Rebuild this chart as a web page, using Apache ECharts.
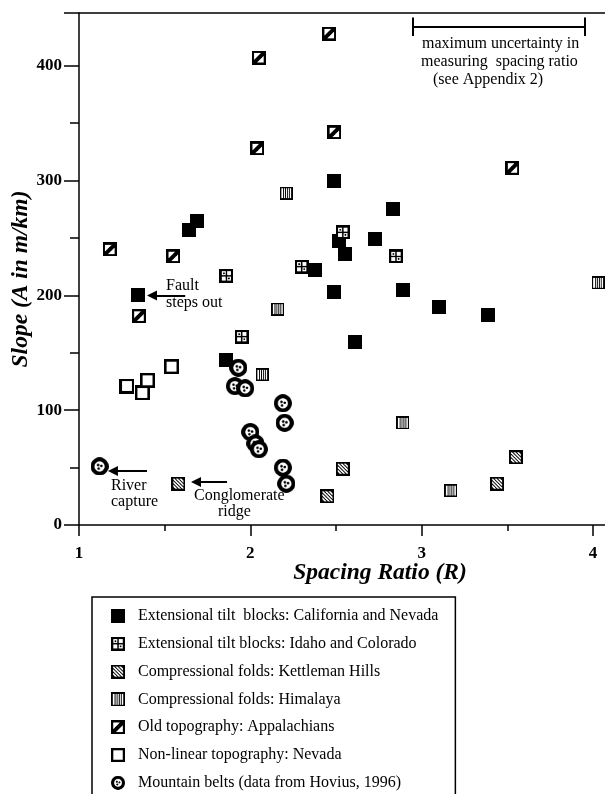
<!DOCTYPE html>
<html>
<head>
<meta charset="utf-8">
<script src="https://cdn.jsdelivr.net/npm/echarts@6/dist/echarts.min.js"></script>
<style>
  html, body { margin: 0; padding: 0; background: #fff; }
  #chart { width: 605px; height: 794px; }
</style>
</head>
<body>
<div id="chart"></div>
<script>
// [spacing ratio R, slope A]
const caNevada = [[1.345, 200], [1.64, 257], [1.69, 265], [1.86, 144], [2.49, 300], [2.38, 222], [2.49, 203],
  [2.52, 247], [2.55, 236], [2.61, 159], [2.73, 249], [2.83, 275], [2.89, 205], [3.10, 190], [3.39, 183]];
const idahoColorado = [[1.86, 217], [1.95, 164], [2.30, 225], [2.54, 255], [2.85, 234]];
const kettleman = [[1.58, 36], [2.54, 49], [2.45, 25], [3.55, 59], [3.44, 36]];
const himalaya = [[2.21, 289], [2.16, 188], [2.07, 131], [2.89, 89], [3.17, 30], [4.03, 211]];
const appalachians = [[1.18, 240], [1.35, 182], [1.55, 234], [2.05, 407], [2.04, 328], [2.46, 428], [2.49, 342], [3.53, 311]];
const nonLinear = [[1.28, 121], [1.37, 115], [1.40, 126], [1.54, 138]];
const mountainBelts = [[1.12, 51], [1.93, 137], [1.91, 121], [1.97, 119], [2.00, 81], [2.03, 71], [2.05, 66],
  [2.19, 106], [2.20, 89], [2.19, 50], [2.21, 36]];

const seriesNames = [
  'Extensional tilt  blocks: California and Nevada',
  'Extensional tilt blocks: Idaho and Colorado',
  'Compressional folds: Kettleman Hills',
  'Compressional folds: Himalaya',
  'Old topography: Appalachians',
  'Non-linear topography: Nevada',
  'Mountain belts (data from Hovius, 1996)'
];
const xTicks = [1, 2, 3, 4];
const xMinorTicks = [1, 1.5, 2, 2.5, 3, 3.5, 4];
const yTicks = [0, 100, 200, 300, 400];

const serif = "'Liberation Serif', 'DejaVu Serif', serif";

// little canvas pictures for the patterned markers
function icon(draw) {
  const c = document.createElement('canvas');
  c.width = c.height = 48;
  const g = c.getContext('2d');
  g.scale(48, 48);
  draw(g);
  return 'image://' + c.toDataURL();
}

const solidIcon = icon(g => { g.fillStyle = '#000'; g.fillRect(0, 0, 1, 1); });

const checkerIcon = icon(g => {
  g.fillStyle = '#000'; g.fillRect(0, 0, 1, 1);
  g.fillStyle = '#fff';
  [[0.17, 0.17], [0.55, 0.17], [0.17, 0.55], [0.55, 0.55]].forEach(p => g.fillRect(p[0], p[1], 0.28, 0.28));
  g.fillStyle = '#000';
  g.fillRect(0.26, 0.26, 0.12, 0.12);
  g.fillRect(0.62, 0.62, 0.12, 0.12);
  g.fillRect(0.45, 0.3, 0.1, 0.4);
});

const kettlemanIcon = icon(g => {
  g.fillStyle = '#000'; g.fillRect(0, 0, 1, 1);
  g.save();
  g.beginPath(); g.rect(0.14, 0.14, 0.72, 0.72); g.clip();
  g.strokeStyle = '#fff'; g.lineWidth = 0.11;
  [-0.5, -0.25, 0, 0.25, 0.5].forEach(k => { g.beginPath(); g.moveTo(k, 0); g.lineTo(k + 1, 1); g.stroke(); });
  g.restore();
});

const himalayaIcon = icon(g => {
  g.fillStyle = '#fff'; g.fillRect(0, 0, 1, 1);
  g.strokeStyle = '#000'; g.lineWidth = 0.12; g.strokeRect(0.06, 0.06, 0.88, 0.88);
  g.fillStyle = '#000';
  [0.25, 0.4, 0.55, 0.7].forEach(x => g.fillRect(x, 0.06, 0.07, 0.88));
});

const appalachianIcon = icon(g => {
  g.fillStyle = '#000'; g.fillRect(0, 0, 1, 1);
  g.fillStyle = '#fff';
  g.beginPath(); g.moveTo(0.16, 0.16); g.lineTo(0.64, 0.16); g.lineTo(0.16, 0.64); g.closePath(); g.fill();
  g.beginPath(); g.moveTo(0.84, 0.36); g.lineTo(0.84, 0.84); g.lineTo(0.36, 0.84); g.closePath(); g.fill();
});

const openIcon = icon(g => {
  g.fillStyle = '#fff'; g.fillRect(0, 0, 1, 1);
  g.strokeStyle = '#000'; g.lineWidth = 0.17; g.strokeRect(0.085, 0.085, 0.83, 0.83);
});

const mountainIcon = icon(g => {
  g.fillStyle = '#000'; g.beginPath(); g.arc(0.5, 0.5, 0.5, 0, Math.PI * 2); g.fill();
  g.fillStyle = '#fff'; g.beginPath(); g.arc(0.5, 0.5, 0.28, 0, Math.PI * 2); g.fill();
  g.fillStyle = '#000';
  [[0.42, 0.42], [0.6, 0.47], [0.45, 0.62]].forEach(p => { g.beginPath(); g.arc(p[0], p[1], 0.07, 0, Math.PI * 2); g.fill(); });
});

const groups = [
  [caNevada, solidIcon, 14],
  [idahoColorado, checkerIcon, 14],
  [kettleman, kettlemanIcon, 14],
  [himalaya, himalayaIcon, 13],
  [appalachians, appalachianIcon, 14],
  [nonLinear, openIcon, 15],
  [mountainBelts, mountainIcon, 18]
];

const axisLine = { onZero: false, lineStyle: { color: '#000', width: 1.5 } };
const tickStyle = { color: '#000', width: 1.5 };
const tickFont = { color: '#000', fontFamily: serif, fontWeight: 'bold', fontSize: 17 };
const nameFont = { color: '#000', fontFamily: serif, fontWeight: 'bold', fontStyle: 'italic' };
const textFont = '16px ' + serif;

function arrow(from, to) {
  return [{ coord: from, symbol: 'none' }, { coord: to, symbol: 'triangle', symbolSize: 10 }];
}

let chart = echarts.init(document.getElementById('chart'), null, { renderer: 'canvas' });

const series = groups.map((g, i) => ({
  type: 'scatter',
  name: seriesNames[i],
  data: g[0],
  symbol: g[1],
  symbolSize: g[2],
  itemStyle: { opacity: 1 },
  silent: true
}));

series.push({
  type: 'scatter',
  name: 'notes',
  data: [],
  silent: true,
  markLine: {
    silent: true,
    symbol: 'none',
    label: { show: false },
    lineStyle: { color: '#000', width: 2, type: 'solid' },
    data: [
      // uncertainty bar
      [{ coord: [2.95, 434] }, { coord: [3.95, 434] }],
      [{ coord: [2.95, 442] }, { coord: [2.95, 426] }],
      [{ coord: [3.95, 442] }, { coord: [3.95, 426] }],
      arrow([1.62, 200], [1.426, 200]),
      arrow([1.397, 47], [1.198, 47]),
      arrow([1.864, 37.5], [1.683, 37.5])
    ]
  }
});

chart.setOption({
  animation: false,
  grid: { left: 79, right: 0, top: 13, bottom: 269, outerBoundsMode: 'none', containLabel: false },
  xAxis: [
    {
      type: 'value', min: 1, max: 4.07, interval: 0.5, position: 'bottom',
      axisLine,
      axisTick: { length: 6, lineStyle: tickStyle, customValues: xMinorTicks },
      axisLabel: Object.assign({ margin: 20, customValues: xTicks, formatter: v => xTicks.includes(v) ? String(v) : '' }, tickFont),
      splitLine: { show: false },
      name: 'Spacing Ratio (R)', nameLocation: 'middle', nameGap: 36, nameMoveOverlap: false,
      nameTextStyle: Object.assign({ fontSize: 23.5, padding: [0, 0, 0, 76] }, nameFont)
    },
    {
      type: 'value', min: 1, max: 4.07, interval: 1, position: 'bottom',
      axisLine: { show: false, onZero: false },
      axisTick: { length: 11, lineStyle: tickStyle, customValues: xTicks },
      axisLabel: { show: false }, splitLine: { show: false }
    },
    {
      type: 'value', min: 1, max: 4.07, position: 'top',
      axisLine, axisTick: { show: false }, axisLabel: { show: false }, splitLine: { show: false }
    }
  ],
  yAxis: [
    {
      type: 'value', min: 0, max: 446, interval: 100, position: 'left',
      axisLine,
      axisTick: { length: 15, lineStyle: tickStyle },
      axisLabel: Object.assign({ margin: 17, formatter: v => yTicks.includes(v) ? String(v) : '' }, tickFont),
      splitLine: { show: false },
      name: 'Slope (A in m/km)', nameLocation: 'middle', nameGap: 47, nameMoveOverlap: false,
      nameTextStyle: Object.assign({ fontSize: 23.5, padding: [0, 20, 0, 0] }, nameFont)
    },
    {
      type: 'value', min: 0, max: 446, interval: 50, position: 'left',
      axisLine: { show: false, onZero: false },
      axisTick: { length: 9, lineStyle: tickStyle },
      axisLabel: { show: false }, splitLine: { show: false }
    }
  ],
  legend: {
    data: seriesNames,
    orient: 'vertical',
    left: 92, top: 597, height: 300,
    padding: [11, 17, 12, 19],
    itemWidth: 14, itemHeight: 14, itemGap: 11.8,
    borderColor: '#000', borderWidth: 1.5, borderRadius: 0,
    selectedMode: false,
    textStyle: { color: '#000', fontFamily: serif, fontSize: 16, padding: [0, 0, 0, 8] }
  },
  graphic: [
    ['maximum uncertainty in', 422, 44],
    ['measuring  spacing ratio', 421, 62],
    ['(see Appendix 2)', 433, 80],
    ['Fault', 166, 286],
    ['steps out', 166, 303],
    ['River', 111, 486],
    ['capture', 111, 502],
    ['Conglomerate', 194, 496],
    ['ridge', 218, 512]
  ].map(t => ({
    type: 'text', x: t[1], y: t[2], silent: true,
    style: { text: t[0], font: textFont, fill: '#000', textAlign: 'left', textVerticalAlign: 'middle' }
  })),
  series
});
</script>
</body>
</html>
